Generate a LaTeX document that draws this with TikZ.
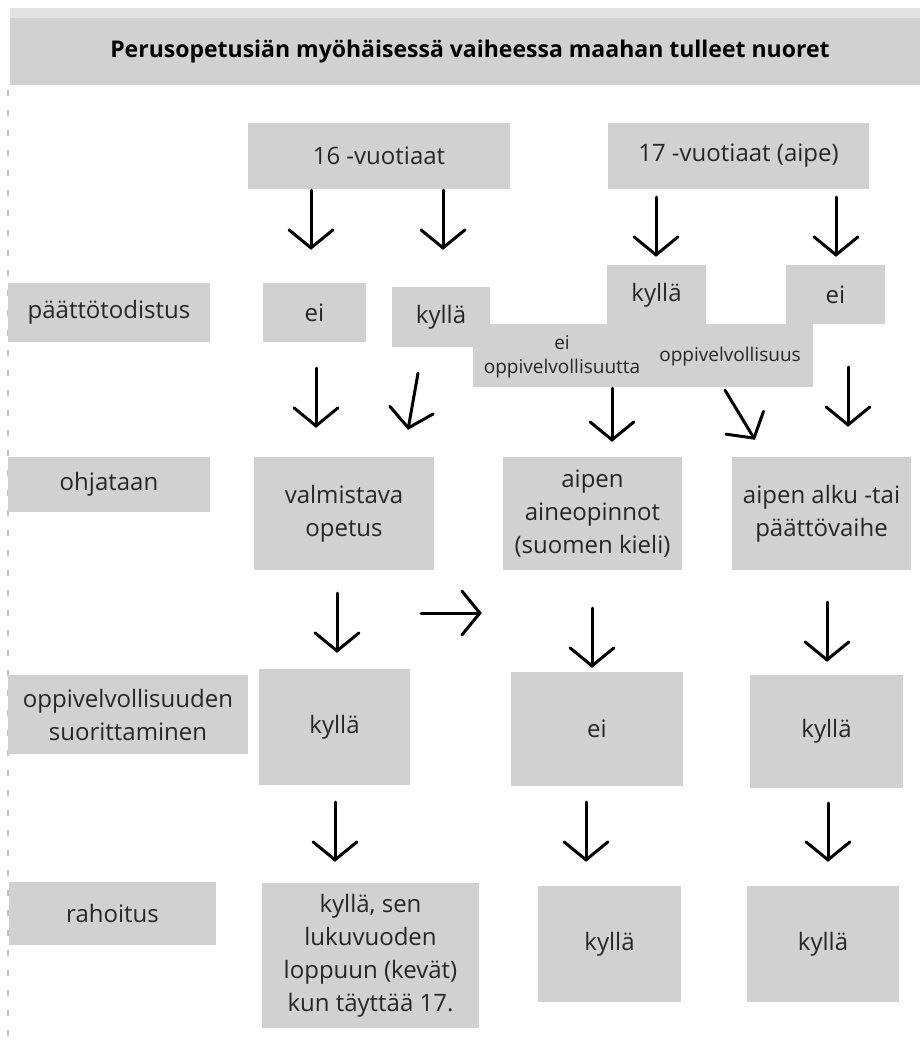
\documentclass[tikz,border=0pt]{standalone}
\usepackage{fontspec}
\setmainfont{Open Sans}
\usetikzlibrary{arrows.meta,calc}
\definecolor{boxgray}{RGB}{209,209,209}
\definecolor{stripgray}{RGB}{228,228,228}
\definecolor{txt}{RGB}{38,38,38}
\begin{document}
\begin{tikzpicture}[x=1pt,y=-1pt,
  box/.style={fill=boxgray, draw=none, inner sep=0pt, align=center, text=txt,
    font=\fontsize{24}{33}\selectfont},
  small/.style={inner sep=0pt, align=center, text=txt, font=\fontsize{19}{24}\selectfont},
  arr/.style={line width=3pt, line cap=round, line join=round,
    -{Straight Barb[length=18pt,width=44pt,line cap=round]}}]
\useasboundingbox (0,0) rectangle (920,1057);
% top strip and left dashed border
\fill[stripgray] (10,8) rectangle (920,18);
\draw[gray!50, line width=1.5pt, dash pattern=on 6pt off 14pt] (8,90) -- (8,1045);
% title
\node[box, minimum width=910pt, minimum height=67pt, text=black,
  font=\fontsize{23}{28}\selectfont\bfseries] (title) at (465,51.5)
  {\hspace*{10pt}Perusopetusiän myöhäisessä vaiheessa maahan tulleet nuoret};
% row 1
\node[box, minimum width=262pt, minimum height=66pt] (n16) at (379,156) {16 -vuotiaat};
\node[box, minimum width=261pt, minimum height=66pt] (n17) at (738.5,156) {17 -vuotiaat (aipe)};
% row 2
\node[box, minimum width=202pt, minimum height=59pt] (lPaa) at (109,312.5) {päättötodistus};
\node[box, minimum width=103pt, minimum height=59pt] (ei16) at (314.5,312.5) {ei};
\node[box, minimum width=98pt, minimum height=60pt] (ky16) at (441,317) {kyllä};
\node[box, minimum width=340pt, minimum height=63pt] (wide) at (643,355.5) {};
\node[box, minimum width=99pt, minimum height=60pt] (ky17) at (656.5,295) {kyllä};
\node[box, minimum width=99pt, minimum height=59pt] (ei17) at (835.5,294.5) {ei};
\node[small] (t1) at (562,357) {ei\\oppivelvollisuutta};
\node[small] (t2) at (730,357) {oppivelvollisuus};
% row 3
\node[box, minimum width=202pt, minimum height=55pt] (lOhj) at (109,484.5) {ohjataan};
\node[box, minimum width=180pt, minimum height=113pt] (valm) at (344,513.5) {valmistava\\opetus};
\node[box, minimum width=179pt, minimum height=113pt] (aine) at (592.5,513.5) {aipen\\aineopinnot\\(suomen kieli)};
\node[box, minimum width=179pt, minimum height=113pt] (alku) at (821.5,513.5) {aipen alku -tai\\päättövaihe};
% row 4
\node[box, minimum width=240pt, minimum height=79pt] (lOpp) at (128,714.5) {oppivelvollisuuden\\suorittaminen};
\node[box, minimum width=151pt, minimum height=116pt] (ky4a) at (334.5,727) {kyllä};
\node[box, minimum width=172pt, minimum height=114pt] (ei4) at (597,729) {ei};
\node[box, minimum width=153pt, minimum height=113pt] (ky4c) at (826.5,731.5) {kyllä};
% row 5
\node[box, minimum width=207pt, minimum height=63pt] (lRah) at (112.5,913.5) {rahoitus};
\node[box, minimum width=217pt, minimum height=145pt] (rah1) at (370.5,955.5) {kyllä, sen\\lukuvuoden\\loppuun (kevät)\\kun täyttää 17.};
\node[box, minimum width=143pt, minimum height=116pt] (rah2) at (609.5,944) {kyllä};
\node[box, minimum width=152pt, minimum height=116pt] (rah3) at (823,944) {kyllä};
% arrows
\draw[arr, shorten <=1pt, shorten >=33pt] ([xshift=-68pt]n16.south) -- ([xshift=-68pt]n16.south |- ei16.north);
\draw[arr, shorten <=1pt, shorten >=37pt] ([xshift=64pt]n16.south) -- ([xshift=64pt]n16.south |- ky16.north);
\draw[arr, shorten <=8pt, shorten >=8pt] ([xshift=-82.5pt]n17.south) -- ([xshift=-82.5pt]n17.south |- ky17.north);
\draw[arr, shorten <=8pt, shorten >=8pt] ([xshift=97.5pt]n17.south) -- ([xshift=97.5pt]n17.south |- ei17.north);
\draw[arr, shorten <=26pt, shorten >=29pt] ([xshift=1.5pt]ei16.south) -- ([xshift=1.5pt]ei16.south |- valm.north);
\draw[arr] ([shift={(-23,26)}]ky16.south) -- ([shift={(64,-27)}]valm.north);
\draw[arr, shorten <=1pt, shorten >=15pt] ([xshift=-31pt]wide.south) -- ([xshift=-31pt]wide.south |- aine.north);
\draw[arr] ([shift={(82,3)}]wide.south) -- ([shift={(-66.5,-17)}]alku.north);
\draw[arr, shorten <=43pt, shorten >=30pt] ([xshift=12.5pt]ei17.south) -- ([xshift=12.5pt]ei17.south |- alku.north);
\draw[arr, shorten <=23pt, shorten >=16pt] ([xshift=-7pt]valm.south) -- ([xshift=-7pt]valm.south |- ky4a.north);
\draw[arr] ([shift={(-13,99.5)}]valm.east) -- ([shift={(-21,99.5)}]aine.west);
\draw[arr, shorten <=38pt, shorten >=4pt] ([xshift=-0.5pt]aine.south) -- ([xshift=-0.5pt]aine.south |- ei4.north);
\draw[arr, shorten <=32pt, shorten >=13pt] ([xshift=5.5pt]alku.south) -- ([xshift=5.5pt]alku.south |- ky4c.north);
\draw[arr, shorten <=17pt, shorten >=21pt] ([xshift=0.5pt]ky4a.south) -- ([xshift=0.5pt]ky4a.south |- rah1.north);
\draw[arr, shorten <=16pt, shorten >=24pt] ([xshift=-11pt]ei4.south) -- ([xshift=-11pt]ei4.south |- rah2.north);
\draw[arr, shorten <=15pt, shorten >=24pt] ([xshift=1.5pt]ky4c.south) -- ([xshift=1.5pt]ky4c.south |- rah3.north);
\end{tikzpicture}
\end{document}
